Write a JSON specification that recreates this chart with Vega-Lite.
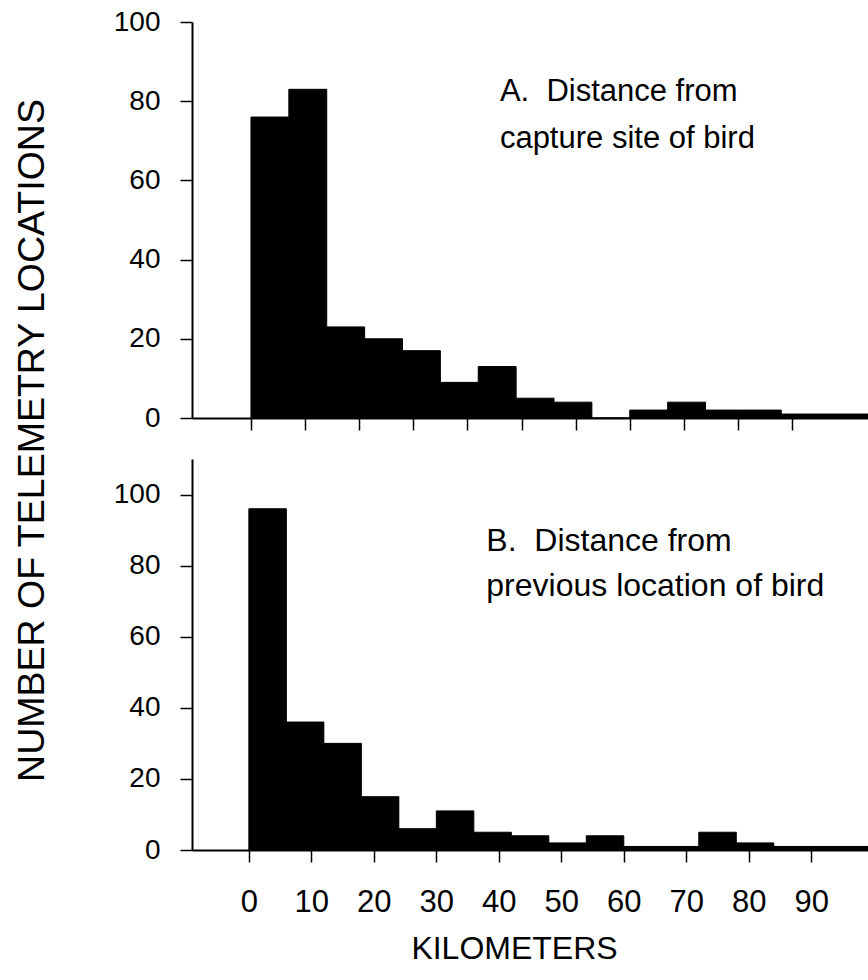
{
  "$schema": "https://vega.github.io/schema/vega-lite/v6.json",
  "background": "white",
  "padding": {"left": 12, "top": 8, "right": 0, "bottom": 0},
  "bounds": "flush",
  "spacing": 41,
  "config": {
    "view": {"stroke": null},
    "font": "Liberation Sans",
    "axis": {
      "grid": false,
      "domainColor": "black",
      "domainWidth": 2,
      "tickColor": "black",
      "tickWidth": 1.5,
      "tickSize": 12,
      "labelColor": "black",
      "titleColor": "black",
      "labelFont": "Liberation Sans",
      "titleFont": "Liberation Sans",
      "titleFontWeight": "normal"
    }
  },
  "datasets": {
    "capture": [
      {"km_start": 0, "km_end": 7, "count": 76},
      {"km_start": 7, "km_end": 14, "count": 83},
      {"km_start": 14, "km_end": 21, "count": 23},
      {"km_start": 21, "km_end": 28, "count": 20},
      {"km_start": 28, "km_end": 35, "count": 17},
      {"km_start": 35, "km_end": 42, "count": 9},
      {"km_start": 42, "km_end": 49, "count": 13},
      {"km_start": 49, "km_end": 56, "count": 5},
      {"km_start": 56, "km_end": 63, "count": 4},
      {"km_start": 63, "km_end": 70, "count": 0},
      {"km_start": 70, "km_end": 77, "count": 2},
      {"km_start": 77, "km_end": 84, "count": 4},
      {"km_start": 84, "km_end": 91, "count": 2},
      {"km_start": 91, "km_end": 98, "count": 2},
      {"km_start": 98, "km_end": 105, "count": 1},
      {"km_start": 105, "km_end": 112, "count": 1},
      {"km_start": 112, "km_end": 119, "count": 1}
    ],
    "previous": [
      {"km_start": 0, "km_end": 6, "count": 96},
      {"km_start": 6, "km_end": 12, "count": 36},
      {"km_start": 12, "km_end": 18, "count": 30},
      {"km_start": 18, "km_end": 24, "count": 15},
      {"km_start": 24, "km_end": 30, "count": 6},
      {"km_start": 30, "km_end": 36, "count": 11},
      {"km_start": 36, "km_end": 42, "count": 5},
      {"km_start": 42, "km_end": 48, "count": 4},
      {"km_start": 48, "km_end": 54, "count": 2},
      {"km_start": 54, "km_end": 60, "count": 4},
      {"km_start": 60, "km_end": 66, "count": 1},
      {"km_start": 66, "km_end": 72, "count": 1},
      {"km_start": 72, "km_end": 78, "count": 5},
      {"km_start": 78, "km_end": 84, "count": 2},
      {"km_start": 84, "km_end": 90, "count": 1},
      {"km_start": 90, "km_end": 96, "count": 1},
      {"km_start": 96, "km_end": 102, "count": 1}
    ]
  },
  "vconcat": [
    {
      "width": 678,
      "height": 396,
      "layer": [
        {
          "data": {"name": "capture"},
          "mark": {"type": "bar", "color": "black", "stroke": "black", "strokeWidth": 1, "clip": true},
          "encoding": {
            "x": {
              "field": "km_start",
              "type": "quantitative",
              "scale": {"domain": [-10.9, 114.4], "nice": false, "zero": false},
              "axis": {"values": [0, 10, 20, 30, 40, 50, 60, 70, 80, 90, 100], "labels": false, "title": null}
            },
            "x2": {"field": "km_end"},
            "y": {
              "field": "count",
              "type": "quantitative",
              "scale": {"domain": [0, 100], "nice": false},
              "axis": {
                "values": [0, 20, 40, 60, 80, 100],
                "labelFontSize": 28,
                "labelPadding": 20,
                "title": "NUMBER OF TELEMETRY LOCATIONS",
                "titleFontSize": 37.5,
                "titleAngle": -90,
                "titleAlign": "center",
                "titleBaseline": "middle",
                "titleX": -160,
                "titleY": 418
              }
            },
            "y2": {"datum": 0}
          }
        },
        {
          "data": {"values": [{}]},
          "mark": {"type": "text", "font": "Liberation Sans", "fontSize": 31, "align": "left", "baseline": "alphabetic", "lineHeight": 47, "color": "black"},
          "encoding": {
            "x": {"datum": 46},
            "y": {"datum": 80},
            "text": {"value": ["A.\u00a0 Distance from", "capture site of bird"]}
          }
        }
      ]
    },
    {
      "width": 678,
      "height": 391,
      "layer": [
        {
          "data": {"name": "previous"},
          "mark": {"type": "bar", "color": "black", "stroke": "black", "strokeWidth": 1, "clip": true},
          "encoding": {
            "x": {
              "field": "km_start",
              "type": "quantitative",
              "scale": {"domain": [-9.1, 99.4], "nice": false, "zero": false},
              "axis": {
                "values": [0, 10, 20, 30, 40, 50, 60, 70, 80, 90],
                "labelFontSize": 31,
                "labelPadding": 25,
                "title": "KILOMETERS",
                "titleFontSize": 32,
                "titleAlign": "center",
                "titleBaseline": "alphabetic",
                "titleX": 322,
                "titleY": 108
              }
            },
            "x2": {"field": "km_end"},
            "y": {
              "field": "count",
              "type": "quantitative",
              "scale": {"domain": [0, 110], "nice": false},
              "axis": {
                "values": [0, 20, 40, 60, 80, 100],
                "labelFontSize": 28,
                "labelPadding": 20,
                "title": null
              }
            },
            "y2": {"datum": 0}
          }
        },
        {
          "data": {"values": [{}]},
          "mark": {"type": "text", "font": "Liberation Sans", "fontSize": 32, "align": "left", "baseline": "alphabetic", "lineHeight": 45, "color": "black"},
          "encoding": {
            "x": {"datum": 38},
            "y": {"datum": 84},
            "text": {"value": ["B.\u00a0 Distance from", "previous location of bird"]}
          }
        }
      ]
    }
  ]
}
